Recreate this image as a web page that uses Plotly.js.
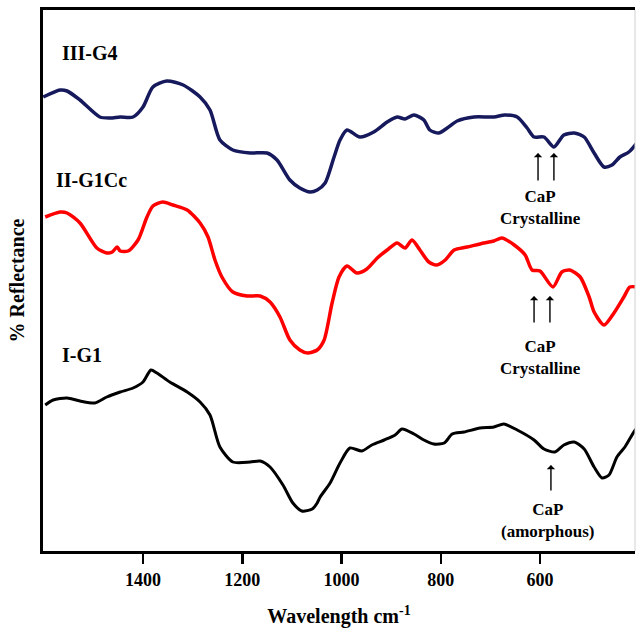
<!DOCTYPE html>
<html>
<head>
<meta charset="utf-8">
<script src="https://cdn.plot.ly/plotly-3.0.1.min.js"></script>
<style>html,body{margin:0;padding:0;background:#fff;}#chart{width:637px;height:628px;}</style>
</head>
<body>
<div id="chart"></div>
<script>
// Wavenumber (cm-1) and relative reflectance (arbitrary offset units)
const g4Wave = [1601,1567,1553,1527,1487,1466,1446,1420,1400,1380,1352,1319,1285,1265,1245,1219,1184,1150,1130,1104,1084,1063,1049,1033,1015,1003,989,963,935,908,888,872,854,834,822,804,787,767,733,693,671,646,626,612,592,572,552,531,511,491,471,455,439,421,405];
const g4Refl = [454,461,460,451,434,433,434,434,444,464,470,466,454,441,411,401,398,398,391,371,363,359,361,368,394,411,421,414,419,429,434,432,436,431,421,418,423,430,434,434,436,434,423,414,414,404,416,418,414,398,384,386,394,399,408];

const g1ccWave = [1597,1567,1553,1527,1493,1473,1462,1452,1446,1430,1410,1392,1380,1360,1340,1311,1285,1269,1255,1241,1219,1190,1164,1144,1124,1104,1084,1068,1049,1035,1019,1005,989,969,949,928,908,888,872,858,842,824,808,791,773,747,713,693,677,652,630,616,600,574,556,540,519,501,491,471,451,431,419,405];
const g1ccRefl = [334,339,338,328,303,298,299,304,300,300,311,334,345,349,346,341,328,314,291,274,259,255,255,249,234,211,201,198,201,211,248,274,285,278,282,293,301,308,303,311,301,289,286,291,301,304,308,310,313,306,296,281,280,264,279,281,274,254,239,226,238,254,264,264];

const g1Wave = [1597,1581,1553,1527,1497,1473,1446,1420,1400,1384,1372,1346,1311,1285,1265,1245,1219,1184,1164,1144,1118,1098,1080,1059,1049,1043,1023,1003,983,959,939,914,892,878,854,834,814,793,777,753,721,693,673,646,612,592,570,552,531,511,491,475,461,445,429,411,405];
const g1Refl = [146,151,153,150,148,154,159,163,169,181,178,169,159,149,136,104,89,89,90,84,66,48,40,42,48,54,68,88,103,100,106,111,116,122,117,111,107,108,117,119,123,124,127,121,111,102,99,106,109,102,84,73,76,94,104,119,123];

const seriesNames = ["III-G4", "II-G1Cc", "I-G1"];
const xTickVals = [1400, 1200, 1000, 800, 600];
const xTickText = ["1400", "1200", "1000", "800", "600"];

const serif = "Liberation Serif, Times New Roman, serif";

const traces = [
  {x: g4Wave, y: g4Refl, name: seriesNames[0], mode: "lines", line: {color: "#161a5c", width: 3.5, shape: "spline", smoothing: 0.7}},
  {x: g1ccWave, y: g1ccRefl, name: seriesNames[1], mode: "lines", line: {color: "#ff0000", width: 3.5, shape: "spline", smoothing: 0.7}},
  {x: g1Wave, y: g1Refl, name: seriesNames[2], mode: "lines", line: {color: "#000000", width: 3, shape: "spline", smoothing: 0.7}}
];

const lblFont = {family: serif, size: 20, color: "#000", weight: "bold"};
const capFont = {family: serif, size: 17, color: "#000", weight: "bold"};

function arrow(xh, yh, yt) {
  return {x: xh, y: yh, ax: xh, ay: yt, xref: "x", yref: "y", axref: "x", ayref: "y",
          showarrow: true, arrowhead: 1, arrowsize: 1, arrowwidth: 1.4, arrowcolor: "#000", text: ""};
}

const annotations = [
  {x: 1567, y: 498, xref: "x", yref: "y", text: seriesNames[0], showarrow: false, xanchor: "left", yanchor: "middle", font: lblFont},
  {x: 1579, y: 371, xref: "x", yref: "y", text: seriesNames[1], showarrow: false, xanchor: "left", yanchor: "middle", font: lblFont},
  {x: 1567, y: 196, xref: "x", yref: "y", text: seriesNames[2], showarrow: false, xanchor: "left", yanchor: "middle", font: lblFont},
  arrow(604, 398, 369), arrow(572, 398, 369),
  {x: 600, y: 344, xref: "x", yref: "y", text: "CaP<br>Crystalline", showarrow: false, xanchor: "center", yanchor: "middle", font: capFont},
  arrow(612, 255, 227), arrow(580, 255, 227),
  {x: 600, y: 194, xref: "x", yref: "y", text: "CaP<br>Crystalline", showarrow: false, xanchor: "center", yanchor: "middle", font: capFont},
  arrow(578, 86, 59),
  {x: 584, y: 31, xref: "x", yref: "y", text: "CaP<br>(amorphous)", showarrow: false, xanchor: "center", yanchor: "middle", font: capFont}
];

const layout = {
  width: 637, height: 628,
  margin: {l: 43, r: 2, t: 10, b: 77},
  paper_bgcolor: "#fff", plot_bgcolor: "#fff",
  showlegend: false,
  xaxis: {
    range: [1601.5, 408.6], autorange: false,
    tickvals: xTickVals, ticktext: xTickText,
    ticks: "outside", ticklen: 10, tickwidth: 2.5, tickcolor: "#000",
    tickfont: {family: serif, size: 18, color: "#000", weight: "bold"},
    showline: true, linecolor: "#000", linewidth: 3, mirror: true,
    showgrid: false, zeroline: false,
    title: {text: "Wavelength cm<sup>-1</sup>", font: {family: serif, size: 20, color: "#000", weight: "bold"}, standoff: 21}
  },
  yaxis: {
    range: [0, 541], autorange: false,
    showticklabels: false, ticks: "",
    showline: true, linecolor: "#000", linewidth: 3,
    showgrid: false, zeroline: false,
    title: {text: "% Reflectance", font: {family: serif, size: 20, color: "#000", weight: "bold"}, standoff: 11}
  },
  shapes: [
    {type: "line", xref: "paper", yref: "paper", x0: 1, x1: 1, y0: 0, y1: 1, line: {color: "#d0d0d0", width: 1}}
  ],
  annotations: annotations
};

Plotly.newPlot("chart", traces, layout, {displayModeBar: false, staticPlot: true});
</script>
</body>
</html>
